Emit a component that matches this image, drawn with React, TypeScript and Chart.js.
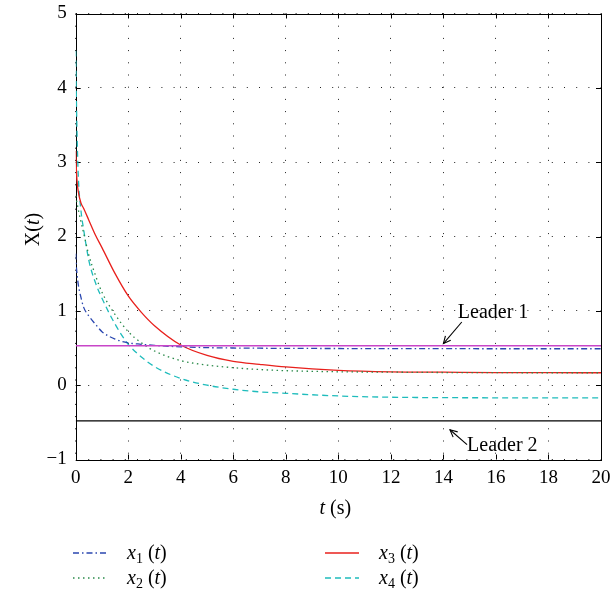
import React, { useEffect, useRef } from "react";
import { Chart, registerables } from "chart.js";

Chart.register(...registerables);

// ---- data ----
const T = [0, 0.02, 0.05, 0.1, 0.2, 0.3, 0.5, 0.75, 1, 1.5, 2, 2.5, 3, 4, 5, 6, 7, 8, 10, 12, 14, 16, 18, 20];
const X1 = [1.77, 1.62, 1.5, 1.35, 1.18, 1.05, 0.93, 0.82, 0.72, 0.62, 0.57, 0.55, 0.535, 0.515, 0.505, 0.5, 0.497, 0.495, 0.493, 0.492, 0.491, 0.49, 0.49, 0.49];
const X2 = [2.55, 2.5, 2.45, 2.36, 2.2, 2.05, 1.75, 1.48, 1.25, 0.95, 0.72, 0.57, 0.46, 0.33, 0.27, 0.235, 0.21, 0.195, 0.18, 0.175, 0.17, 0.168, 0.167, 0.167];
const X3 = [3.15, 2.95, 2.75, 2.6, 2.45, 2.38, 2.22, 2.02, 1.85, 1.5, 1.2, 0.98, 0.8, 0.54, 0.4, 0.32, 0.28, 0.245, 0.2, 0.18, 0.175, 0.17, 0.168, 0.167];
const X4 = [4.5, 4.0, 3.4, 2.8, 2.35, 2.1, 1.68, 1.38, 1.17, 0.82, 0.55, 0.38, 0.25, 0.09, 0.0, -0.055, -0.09, -0.11, -0.145, -0.162, -0.168, -0.17, -0.172, -0.172];
const LEADER1 = 0.53;
const LEADER2 = -0.48;
const T_RANGE = [0, 20];
const X_MIN = 0, X_MAX = 20, X_STEP = 2;
const Y_MIN = -1, Y_MAX = 5, Y_STEP = 1;

const SERIES_NAMES = ["1", "2", "3", "4"];
const COLORS = ["#2a47b0", "#2a8a4a", "#e8201c", "#1fbcbc"];
const DASHES: number[][] = [[6, 3, 1.5, 3], [1.5, 3.5], [], [6, 4]];

// annotation anchors in data units
const ANNOTATIONS = [
  { text: "Leader 1", textAt: [14.55, 0.98], from: [14.7, 0.85], to: [14.0, 0.56] },
  { text: "Leader 2", textAt: [14.9, -0.81], from: [14.9, -0.8], to: [14.25, -0.6] },
];

const SERIF = "'Liberation Serif', 'DejaVu Serif', serif";

type Seg = { t: string; it?: boolean; sub?: boolean };

function drawRich(ctx: CanvasRenderingContext2D, segs: Seg[], x: number, y: number, size: number, align: "left" | "center") {
  const fontOf = (s: Seg) => `${s.it ? "italic " : ""}${s.sub ? Math.round(size * 0.68) : size}px ${SERIF}`;
  let total = 0;
  for (const s of segs) {
    ctx.font = fontOf(s);
    total += ctx.measureText(s.t).width;
  }
  let cx = align === "center" ? x - total / 2 : x;
  ctx.textBaseline = "alphabetic";
  ctx.textAlign = "left";
  for (const s of segs) {
    ctx.font = fontOf(s);
    ctx.fillText(s.t, cx, s.sub ? y + size * 0.22 : y);
    cx += ctx.measureText(s.t).width;
  }
}

const decor = {
  id: "decor",
  beforeDatasetsDraw(chart: any) {
    const { ctx, chartArea: a, scales } = chart;
    const xs = scales.x, ys = scales.y;
    ctx.save();
    ctx.setLineDash([]);
    ctx.strokeStyle = "#000";
    ctx.lineWidth = 1;
    ctx.strokeRect(Math.round(a.left) + 0.5, Math.round(a.top) + 0.5, Math.round(a.right - a.left), Math.round(a.bottom - a.top));
    const tl = 5;
    ctx.beginPath();
    xs.ticks.forEach((tk: any) => {
      const px = Math.round(xs.getPixelForValue(tk.value)) + 0.5;
      ctx.moveTo(px, a.bottom); ctx.lineTo(px, a.bottom - tl);
      ctx.moveTo(px, a.top); ctx.lineTo(px, a.top + tl);
    });
    ys.ticks.forEach((tk: any) => {
      const py = Math.round(ys.getPixelForValue(tk.value)) + 0.5;
      ctx.moveTo(a.left, py); ctx.lineTo(a.left + tl, py);
      ctx.moveTo(a.right, py); ctx.lineTo(a.right - tl, py);
    });
    ctx.stroke();
    ctx.restore();
  },
  afterDraw(chart: any) {
    const { ctx, chartArea: a, scales } = chart;
    const xs = scales.x, ys = scales.y;
    ctx.save();
    ctx.setLineDash([]);
    ctx.strokeStyle = "#000";
    ctx.fillStyle = "#000";

    // annotations
    for (const an of ANNOTATIONS) {
      const fx = xs.getPixelForValue(an.from[0]), fy = ys.getPixelForValue(an.from[1]);
      const tx = xs.getPixelForValue(an.to[0]), ty = ys.getPixelForValue(an.to[1]);
      ctx.lineWidth = 1.1;
      ctx.beginPath(); ctx.moveTo(fx, fy); ctx.lineTo(tx, ty); ctx.stroke();
      const ang = Math.atan2(ty - fy, tx - fx);
      const h = 8;
      ctx.beginPath();
      ctx.moveTo(tx - h * Math.cos(ang - 0.45), ty - h * Math.sin(ang - 0.45));
      ctx.lineTo(tx, ty);
      ctx.lineTo(tx - h * Math.cos(ang + 0.45), ty - h * Math.sin(ang + 0.45));
      ctx.stroke();
      ctx.font = `20px ${SERIF}`;
      ctx.textAlign = "left";
      ctx.textBaseline = "middle";
      ctx.fillText(an.text, xs.getPixelForValue(an.textAt[0]), ys.getPixelForValue(an.textAt[1]));
    }

    // axis titles
    drawRich(ctx, [{ t: "t", it: true }, { t: " (s)" }], (a.left + a.right) / 2 - 3, a.bottom + 54, 20, "center");
    ctx.save();
    ctx.translate(39, (a.top + a.bottom) / 2 - 7);
    ctx.rotate(-Math.PI / 2);
    drawRich(ctx, [{ t: "X" }, { t: "(" }, { t: "t", it: true }, { t: ")" }], 0, 0, 20, "center");
    ctx.restore();

    // legend (2 x 2)
    const cols = [{ lx: 73, tx: 127 }, { lx: 325, tx: 379 }];
    const rows = [553, 578];
    const order = [[0, 0, 0], [1, 0, 1], [2, 1, 0], [3, 1, 1]];
    for (const [si, c, r] of order) {
      const col = cols[c], yy = rows[r];
      ctx.strokeStyle = COLORS[si];
      ctx.lineWidth = 1.3;
      ctx.setLineDash(DASHES[si]);
      ctx.beginPath(); ctx.moveTo(col.lx, yy); ctx.lineTo(col.lx + 34, yy); ctx.stroke();
      ctx.setLineDash([]);
      ctx.fillStyle = "#000";
      drawRich(ctx, [{ t: "x", it: true }, { t: SERIES_NAMES[si], sub: true }, { t: " (" }, { t: "t", it: true }, { t: ")" }], col.tx, yy + 6, 20, "left");
    }
    ctx.restore();
  },
};

export default function App() {
  const ref = useRef<HTMLCanvasElement | null>(null);
  useEffect(() => {
    if (!ref.current) return;
    const series = [X1, X2, X3, X4];
    const datasets: any[] = [
      {
        data: T_RANGE.map((t) => ({ x: t, y: LEADER1 })),
        borderColor: "#c845c8", borderWidth: 1.3, pointRadius: 0, order: 0,
      },
      {
        data: T_RANGE.map((t) => ({ x: t, y: LEADER2 })),
        borderColor: "#000", borderWidth: 1.2, pointRadius: 0, order: 0,
      },
      ...series.map((s, i) => ({
        label: "x" + SERIES_NAMES[i],
        data: T.map((t, k) => ({ x: t, y: s[k] })),
        borderColor: COLORS[i],
        borderDash: DASHES[i],
        borderWidth: 1.3,
        pointRadius: 0,
        cubicInterpolationMode: "monotone",
        order: 1,
      })),
    ];
    const chart = new Chart(ref.current, {
      type: "line",
      data: { datasets },
      options: {
        animation: false,
        responsive: false,
        devicePixelRatio: 1,
        layout: { padding: { top: 13.5, right: 12, left: 0, bottom: 0 } },
        plugins: { legend: { display: false }, tooltip: { enabled: false } },
        scales: {
          x: {
            type: "linear",
            min: X_MIN, max: X_MAX,
            ticks: { stepSize: X_STEP, color: "#000", font: { family: SERIF, size: 19 }, padding: 7, maxRotation: 0 },
            grid: { color: "#222", lineWidth: 1, drawTicks: false },
            border: { display: false, dash: [1, 11.2] },
            afterFit: (s: any) => { s.height = 134.5; s.paddingLeft = 0; s.paddingRight = 0; },
          },
          y: {
            type: "linear",
            min: Y_MIN, max: Y_MAX,
            ticks: {
              stepSize: Y_STEP, color: "#000", font: { family: SERIF, size: 19 }, padding: 9,
              callback: (v: any) => String(v).replace("-", "\u2212"),
            },
            grid: { color: "#222", lineWidth: 1, drawTicks: false },
            border: { display: false, dash: [1, 11.2] },
            afterFit: (s: any) => { s.width = 75.7; s.paddingTop = 0; s.paddingBottom = 0; },
          },
        },
      },
      plugins: [decor],
    } as any);
    return () => chart.destroy();
  }, []);
  return (
    <div style={{ position: "absolute", left: 0, top: 0, width: 613, height: 594, background: "#fff" }}>
      <canvas ref={ref} width={613} height={594} style={{ width: 613, height: 594 }} />
    </div>
  );
}
